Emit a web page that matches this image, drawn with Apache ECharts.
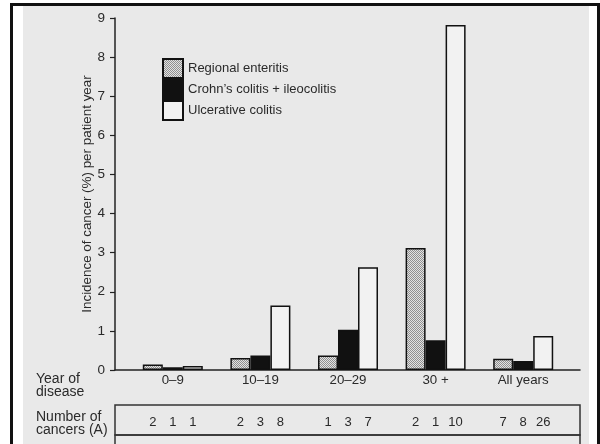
<!DOCTYPE html>
<html>
<head>
<meta charset="utf-8">
<script src="https://cdn.jsdelivr.net/npm/echarts@6/dist/echarts.min.js"></script>
<style>
html,body{margin:0;padding:0;background:#fff;width:600px;height:444px;overflow:hidden;position:relative;}
#frame{position:absolute;left:10px;top:3px;width:584px;height:460px;border:3px solid #111;border-bottom:none;background:#fff;}
#paper{position:absolute;left:23px;top:6px;width:566px;height:440px;background:#e9e9e9;}
#chart{position:absolute;left:0;top:0;width:600px;height:444px;}
</style>
</head>
<body>
<div id="frame"></div>
<div id="paper"></div>
<div id="chart"></div>
<script>
// ---- data ----
const categories = ['0–9', '10–19', '20–29', '30 +', 'All years'];
const regionalEnteritis = [0.14, 0.31, 0.37, 3.12, 0.29];
const crohnsColitis = [0.07, 0.37, 1.03, 0.76, 0.23];
const ulcerativeColitis = [0.10, 1.65, 2.63, 8.82, 0.87];
const yTicks = [0, 1, 2, 3, 4, 5, 6, 7, 8, 9];
const cancersRegional = [2, 2, 1, 2, 7];
const cancersCrohns = [1, 3, 3, 1, 8];
const cancersUlcerative = [1, 8, 7, 10, 26];
const seriesNames = ['Regional enteritis', 'Crohn\u2019s colitis + ileocolitis', 'Ulcerative colitis'];

// stipple pattern
const pc = document.createElement('canvas');
pc.width = 2; pc.height = 2;
const pctx = pc.getContext('2d');
pctx.fillStyle = '#e2e2e2'; pctx.fillRect(0, 0, 2, 2);
pctx.fillStyle = '#909090'; pctx.fillRect(0, 0, 1, 1); pctx.fillRect(1, 1, 1, 1);
const stipple = { image: pc, repeat: 'repeat' };

const FONT = '"Liberation Sans", Arial, sans-serif';
const TXT = '#2a2a2a';
const fills = [stipple, '#111111', '#f2f2f2'];
const mainData = [regionalEnteritis, crohnsColitis, ulcerativeColitis];
const countData = [cancersRegional, cancersCrohns, cancersUlcerative];

const chart = echarts.init(document.getElementById('chart'), null, { renderer: 'canvas' });

const series = [];
mainData.forEach((d, i) => {
  series.push({
    name: seriesNames[i], type: 'bar', xAxisIndex: 0, yAxisIndex: 0,
    data: d, barWidth: 20, barGap: 0,
    itemStyle: { color: fills[i], borderColor: '#111', borderWidth: 1.5 },
    emphasis: { disabled: true }, animation: false
  });
});
countData.forEach((d, i) => {
  series.push({
    name: 'count' + i, type: 'bar', xAxisIndex: 3, yAxisIndex: 3,
    data: d, barWidth: 20, barGap: 0,
    itemStyle: { color: 'rgba(0,0,0,0)' },
    label: { show: true, position: 'insideBottom', distance: 6, color: TXT, fontSize: 13, fontFamily: FONT },
    emphasis: { disabled: true }, animation: false, silent: true
  });
});

chart.setOption({
  backgroundColor: 'transparent',
  animation: false,
  textStyle: { fontFamily: FONT },
  legend: {
    data: seriesNames, orient: 'vertical', left: 162, top: 58, padding: 0,
    itemWidth: 20, itemHeight: 19, itemGap: 0, icon: 'rect',
    textStyle: { color: TXT, fontSize: 13, fontFamily: FONT, lineHeight: 19 },
    selectedMode: false
  },
  grid: [
    { left: 129, right: 33, top: 18, height: 352 },
    { left: 115, right: 20, top: 18, height: 352 },
    { left: 115, right: 20, top: 405, height: 30, show: true, borderColor: '#333', borderWidth: 1.5, backgroundColor: 'transparent' },
    { left: 129, right: 33, top: 405, height: 30 },
    { left: 115, right: 20, top: 435, height: 40, show: true, borderColor: '#333', borderWidth: 1.5, backgroundColor: 'transparent' }
  ],
  xAxis: [
    { type: 'category', gridIndex: 0, data: categories,
      axisLine: { show: false }, axisTick: { show: false },
      axisLabel: { color: TXT, fontSize: 13.3, margin: 4, fontFamily: FONT } },
    { type: 'value', gridIndex: 1, min: 0, max: 1, show: true,
      axisLine: { show: true, lineStyle: { color: '#222', width: 1.5 } },
      axisTick: { show: false }, axisLabel: { show: false }, splitLine: { show: false } },
    { type: 'value', gridIndex: 2, show: false },
    { type: 'category', gridIndex: 3, data: categories, show: false },
    { type: 'value', gridIndex: 4, show: false }
  ],
  yAxis: [
    { type: 'value', gridIndex: 0, min: 0, max: 9, interval: 1, offset: 14,
      name: 'Incidence of cancer (%) per patient year', nameLocation: 'middle', nameGap: 21,
      nameMoveOverlap: false,
      nameTextStyle: { color: TXT, fontSize: 13.4, fontFamily: FONT },
      axisLine: { show: true, lineStyle: { color: '#222', width: 1.5 } },
      axisTick: { show: true, length: 5, lineStyle: { color: '#222', width: 1.2 } },
      axisLabel: { color: TXT, fontSize: 13.5, margin: 10, fontFamily: FONT,
        formatter: v => yTicks.includes(v) ? String(v) : '' },
      splitLine: { show: false } },
    { type: 'value', gridIndex: 1, show: false },
    { type: 'value', gridIndex: 2, show: false },
    { type: 'value', gridIndex: 3, min: 0, max: 30, show: false },
    { type: 'value', gridIndex: 4, show: false }
  ],
  graphic: [
    { type: 'text', left: 36, top: 372, style: { text: 'Year of\ndisease', fill: TXT, font: '14px ' + FONT, lineHeight: 13 } },
    { type: 'text', left: 36, top: 410, style: { text: 'Number of\ncancers (A)', fill: TXT, font: '14px ' + FONT, lineHeight: 13 } }
  ],
  series: series
});
</script>
</body>
</html>
